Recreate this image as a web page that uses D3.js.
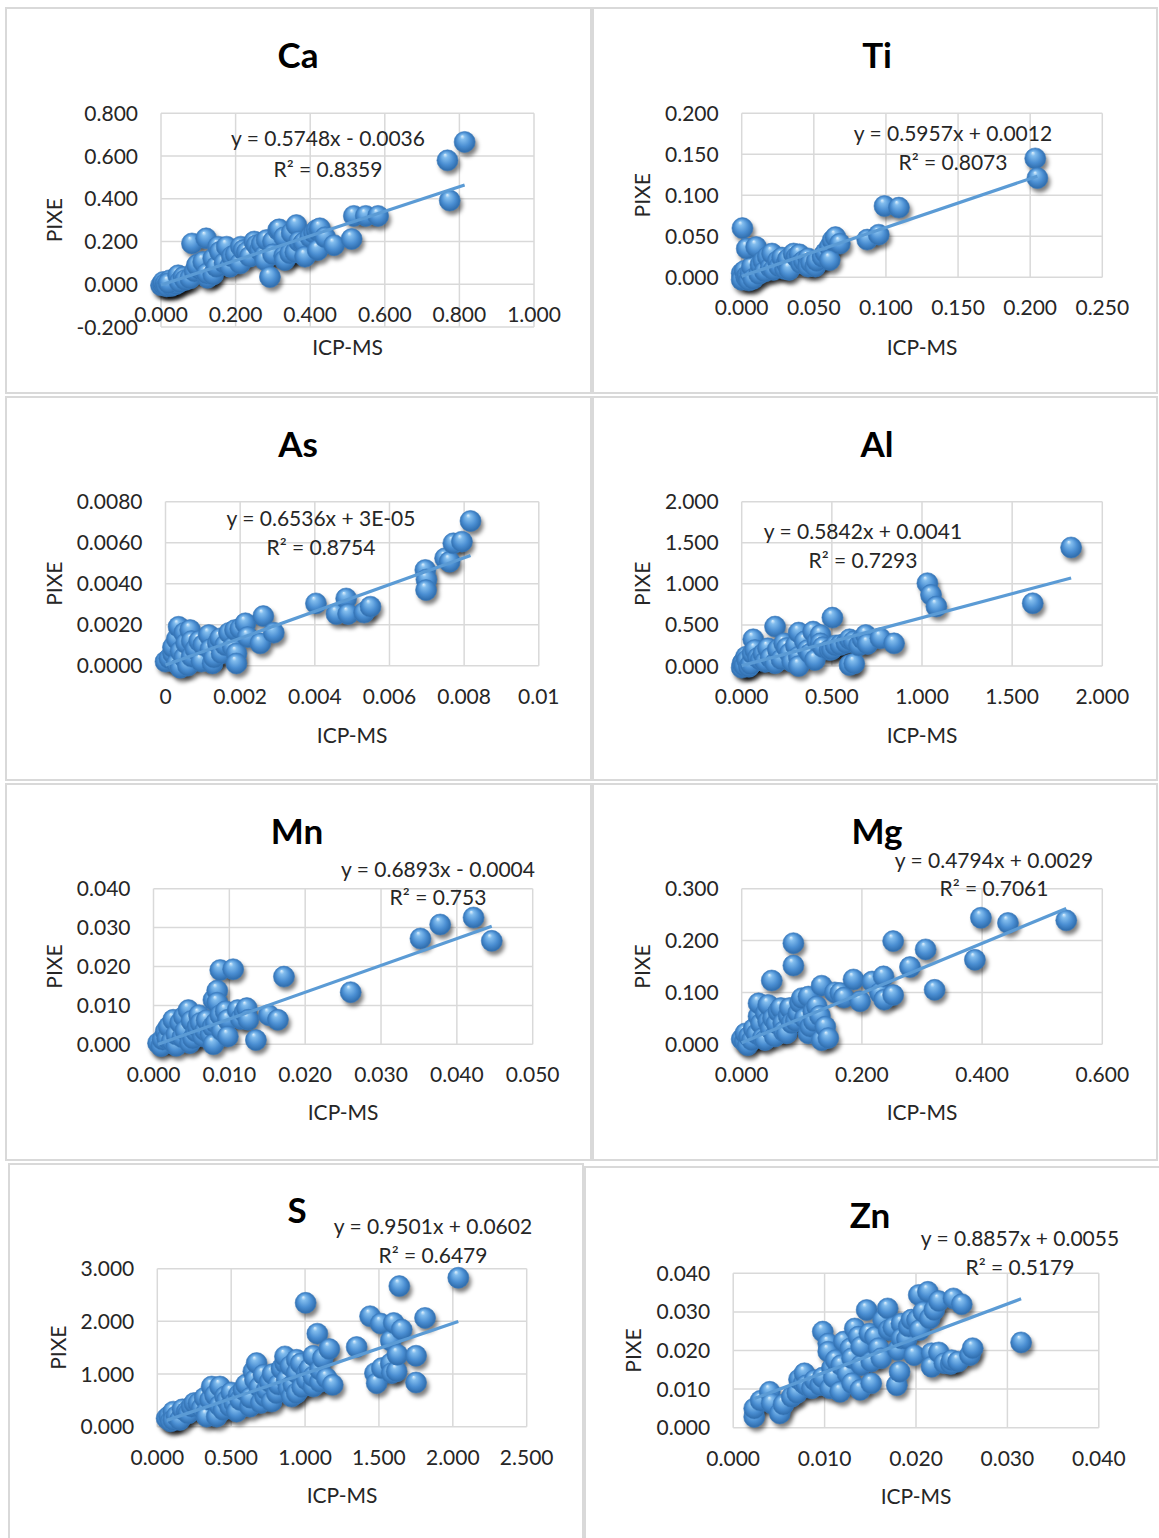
<!DOCTYPE html>
<html>
<head>
<meta charset="utf-8">
<script src="https://cdn.jsdelivr.net/npm/d3@7"></script>
<style>
  body { margin: 0; background: #fff; }
  svg { display: block; }
  text { font-family: Lato, "Open Sans", sans-serif; fill: #262626; }
</style>
</head>
<body>
<div id="chart"></div>
<script>
// ICP-MS (x) vs PIXE (y) readings, one list per element
var caPts = [[0.000,-0.005],[0.005,0.000],[0.006,0.011],[0.012,0.003],[0.015,-0.010],[0.024,0.019],[0.028,-0.008],[0.033,0.003],
  [0.040,0.000],[0.020,0.005],[0.046,0.042],[0.050,0.010],[0.060,0.034],[0.065,0.020],[0.078,0.027],[0.090,0.060],[0.100,0.095],
  [0.105,0.070],[0.083,0.191],[0.121,0.215],[0.096,0.089],[0.113,0.105],[0.125,0.030],[0.131,0.050],[0.123,0.050],[0.140,0.120],
  [0.140,0.045],[0.149,0.082],[0.153,0.176],[0.158,0.152],[0.170,0.100],[0.176,0.176],[0.185,0.082],[0.190,0.130],[0.200,0.140],
  [0.212,0.097],[0.214,0.176],[0.221,0.160],[0.230,0.150],[0.238,0.129],[0.250,0.200],[0.256,0.183],[0.265,0.160],[0.270,0.190],
  [0.278,0.134],[0.279,0.113],[0.283,0.207],[0.292,0.034],[0.300,0.200],[0.300,0.140],[0.314,0.254],[0.317,0.257],[0.330,0.220],
  [0.330,0.132],[0.332,0.113],[0.346,0.144],[0.350,0.240],[0.360,0.150],[0.363,0.277],[0.370,0.200],[0.381,0.190],[0.383,0.195],
  [0.386,0.129],[0.400,0.220],[0.410,0.240],[0.417,0.254],[0.420,0.160],[0.424,0.257],[0.426,0.262],[0.440,0.220],[0.464,0.183],
  [0.511,0.212],[0.517,0.320],[0.549,0.320],[0.582,0.320],[0.768,0.580],[0.774,0.392],[0.814,0.666]];
var tiPts = [[0.000,0.005],[0.000,-0.003],[0.002,0.008],[0.003,0.000],[0.004,0.002],[0.005,-0.004],[0.006,0.005],[0.007,0.013],
  [0.008,-0.002],[0.0005,0.060],[0.0035,0.035],[0.010,0.037],[0.012,0.004],[0.013,0.015],[0.015,0.020],[0.016,0.007],[0.018,0.025],
  [0.020,0.012],[0.021,0.029],[0.022,0.009],[0.025,0.020],[0.026,0.013],[0.028,0.024],[0.030,0.010],[0.031,0.017],[0.032,0.022],
  [0.033,0.009],[0.036,0.029],[0.038,0.025],[0.040,0.028],[0.041,0.017],[0.043,0.020],[0.046,0.023],[0.046,0.013],[0.048,0.018],
  [0.051,0.013],[0.052,0.020],[0.056,0.025],[0.058,0.030],[0.061,0.037],[0.061,0.021],[0.063,0.045],[0.065,0.049],[0.068,0.041],
  [0.087,0.046],[0.095,0.052],[0.099,0.087],[0.109,0.085],[0.2035,0.145],[0.205,0.121]];
var asPts = [[0.0000,0.00020],[0.0001,0.00036],[0.0002,0.00060],[0.0002,0.00090],[0.0003,0.00010],[0.0003,0.00130],[0.00035,0.00190],
  [0.0004,-0.0001],[0.0004,0.00070],[0.0005,0.00040],[0.0005,0.00160],[0.00055,0.00109],[0.0006,0.00000],[0.00066,0.00174],
  [0.0007,0.00044],[0.0007,0.00120],[0.0008,0.00080],[0.0009,0.00120],[0.00096,0.00020],[0.00101,0.00101],[0.00116,0.00150],
  [0.0012,0.00080],[0.00126,0.00011],[0.0013,0.00040],[0.0014,0.00110],[0.00146,0.00133],[0.0015,0.00060],[0.0016,0.00100],
  [0.0017,0.00160],[0.0018,0.00090],[0.00186,0.00174],[0.0019,0.00060],[0.0019,0.00011],[0.0020,0.00180],[0.00214,0.00207],
  [0.0022,0.00140],[0.00254,0.00109],[0.00262,0.00242],[0.0029,0.00161],[0.00403,0.00304],[0.00458,0.00252],[0.00484,0.00328],
  [0.00489,0.00252],[0.00532,0.00259],[0.00549,0.00288],[0.00696,0.00467],[0.00699,0.00421],[0.00698,0.00369],[0.00749,0.00524],
  [0.00761,0.00507],[0.00771,0.00597],[0.00794,0.00605],[0.00817,0.00706]];
var alPts = [[0.000,-0.020],[0.004,0.030],[0.010,0.050],[0.015,0.000],[0.024,0.114],[0.030,0.070],[0.040,-0.010],[0.050,0.020],
  [0.060,0.150],[0.064,0.325],[0.074,0.195],[0.090,0.100],[0.105,0.073],[0.120,0.150],[0.130,0.050],[0.145,0.215],[0.160,0.100],
  [0.185,0.480],[0.185,0.033],[0.200,0.200],[0.220,0.080],[0.235,0.276],[0.250,0.220],[0.266,0.154],[0.280,0.050],[0.300,0.250],
  [0.316,0.407],[0.316,0.114],[0.316,0.000],[0.350,0.300],[0.366,0.195],[0.380,0.150],[0.396,0.419],[0.406,0.073],[0.420,0.300],
  [0.437,0.378],[0.437,0.276],[0.450,0.230],[0.487,0.195],[0.500,0.200],[0.503,0.589],[0.520,0.250],[0.547,0.256],[0.580,0.280],
  [0.598,0.325],[0.598,0.012],[0.620,0.300],[0.624,0.030],[0.650,0.250],[0.670,0.330],[0.688,0.378],[0.698,0.268],[0.769,0.337],
  [0.845,0.276],[1.030,1.008],[1.050,0.866],[1.080,0.724],[1.614,0.764],[1.827,1.443]];
var mnPts = [[0.0006,0.0003],[0.0010,-0.0005],[0.0012,0.0012],[0.0016,0.0033],[0.0018,0.0015],[0.0020,0.0045],[0.0024,0.0008],
  [0.0026,0.0063],[0.0030,-0.0004],[0.0030,0.0025],[0.0035,0.0055],[0.0038,0.0018],[0.0040,0.0071],[0.0042,0.0035],[0.0046,0.0088],
  [0.0048,0.0003],[0.0050,0.0060],[0.0052,0.0015],[0.0056,0.0033],[0.0058,0.0045],[0.0060,0.0075],[0.0062,0.0055],[0.0065,0.0020],
  [0.0068,0.0035],[0.0070,0.0062],[0.0075,0.0025],[0.0078,0.0045],[0.0079,0.0000],[0.0079,0.0114],[0.0082,0.0055],[0.0084,0.0138],
  [0.0084,0.0107],[0.0088,0.0191],[0.0088,0.0075],[0.0090,0.0035],[0.0095,0.0085],[0.0098,0.0063],[0.0098,0.0020],[0.0105,0.0193],
  [0.0111,0.0088],[0.0115,0.0065],[0.0120,0.0082],[0.0123,0.0093],[0.0125,0.0063],[0.0135,0.0011],[0.0152,0.0075],[0.0164,0.0063],
  [0.0172,0.0174],[0.0260,0.0134],[0.0352,0.0272],[0.0378,0.0308],[0.0422,0.0326],[0.0446,0.0266]];
var mgPts = [[0.000,0.010],[0.005,0.005],[0.006,0.021],[0.010,-0.002],[0.012,0.015],[0.017,0.008],[0.020,0.030],[0.025,0.020],
  [0.028,0.054],[0.028,0.079],[0.032,0.040],[0.035,0.012],[0.039,0.008],[0.040,0.060],[0.044,0.044],[0.044,0.076],[0.048,0.030],
  [0.050,0.123],[0.052,0.050],[0.055,0.015],[0.058,0.040],[0.061,0.063],[0.065,0.070],[0.069,0.041],[0.070,0.025],[0.075,0.021],
  [0.078,0.055],[0.080,0.070],[0.083,0.041],[0.086,0.195],[0.086,0.152],[0.090,0.045],[0.094,0.060],[0.097,0.080],[0.100,0.089],
  [0.105,0.050],[0.111,0.092],[0.111,0.021],[0.114,0.034],[0.119,0.063],[0.120,0.045],[0.125,0.073],[0.130,0.055],[0.133,0.113],
  [0.133,0.008],[0.139,0.034],[0.144,0.012],[0.155,0.100],[0.164,0.099],[0.170,0.090],[0.186,0.125],[0.197,0.083],[0.217,0.121],
  [0.230,0.099],[0.236,0.131],[0.237,0.086],[0.252,0.095],[0.252,0.199],[0.280,0.149],[0.306,0.183],[0.321,0.105],[0.388,0.163],
  [0.398,0.244],[0.443,0.234],[0.540,0.239]];
var sPts = [[0.063,0.159],[0.080,0.200],[0.090,0.100],[0.108,0.286],[0.108,0.127],[0.130,0.200],[0.153,0.127],[0.170,0.330],
  [0.199,0.286],[0.210,0.250],[0.232,0.381],[0.250,0.450],[0.278,0.445],[0.300,0.350],[0.320,0.550],[0.334,0.286],[0.334,0.191],
  [0.357,0.509],[0.368,0.763],[0.390,0.600],[0.402,0.191],[0.420,0.400],[0.424,0.763],[0.447,0.318],[0.458,0.572],[0.470,0.500],
  [0.492,0.381],[0.500,0.650],[0.520,0.450],[0.537,0.286],[0.550,0.600],[0.560,0.509],[0.582,0.699],[0.600,0.800],[0.627,0.381],
  [0.630,0.550],[0.650,1.050],[0.661,0.890],[0.672,1.208],[0.690,0.750],[0.700,0.450],[0.718,0.985],[0.729,0.572],[0.740,0.699],
  [0.760,0.850],[0.774,0.477],[0.780,1.000],[0.808,0.636],[0.820,0.800],[0.840,1.100],[0.864,1.208],[0.864,1.335],[0.875,0.890],
  [0.887,0.731],[0.900,1.150],[0.909,0.572],[0.920,0.800],[0.943,1.271],[0.943,0.636],[0.943,1.017],[0.970,1.200],[0.980,0.750],
  [1.004,2.352],[1.011,1.017],[1.011,0.890],[1.030,1.100],[1.056,1.348],[1.056,0.763],[1.056,0.954],[1.083,1.767],[1.100,0.850],
  [1.101,1.081],[1.120,1.300],[1.146,0.922],[1.164,1.475],[1.187,0.795],[1.349,1.513],[1.440,2.098],[1.473,1.017],[1.485,0.826],
  [1.512,1.958],[1.519,1.113],[1.580,1.200],[1.580,1.634],[1.586,1.017],[1.600,1.970],[1.620,1.050],[1.625,1.367],[1.638,2.670],
  [1.654,1.844],[1.751,1.348],[1.751,0.839],[1.812,2.066],[2.037,2.829]];
var znPts = [[0.0023,0.0028],[0.0023,0.0050],[0.0030,0.0070],[0.0040,0.0093],[0.0042,0.0063],[0.0051,0.0037],[0.0055,0.0060],
  [0.0064,0.0080],[0.0070,0.0090],[0.0072,0.0125],[0.0077,0.0115],[0.0078,0.0141],[0.0080,0.0110],[0.0086,0.0102],[0.0089,0.0123],
  [0.0095,0.0110],[0.0098,0.0130],[0.0098,0.0249],[0.0104,0.0218],[0.0104,0.0197],[0.0106,0.0102],[0.0108,0.0154],[0.0110,0.0130],
  [0.0112,0.0175],[0.0117,0.0093],[0.0118,0.0162],[0.0121,0.0223],[0.0125,0.0140],[0.0128,0.0205],[0.0130,0.0115],[0.0130,0.0180],
  [0.0133,0.0257],[0.0137,0.0236],[0.0139,0.0098],[0.0140,0.0162],[0.0140,0.0210],[0.0146,0.0305],[0.0149,0.0244],[0.0151,0.0115],
  [0.0151,0.0171],[0.0155,0.0235],[0.0159,0.0206],[0.0162,0.0180],[0.0164,0.0279],[0.0169,0.0309],[0.0170,0.0253],[0.0175,0.0260],
  [0.0179,0.0110],[0.0180,0.0201],[0.0182,0.0145],[0.0184,0.0270],[0.0184,0.0231],[0.0190,0.0230],[0.0192,0.0262],[0.0195,0.0280],
  [0.0198,0.0188],[0.0201,0.0279],[0.0203,0.0344],[0.0204,0.0253],[0.0208,0.0300],[0.0213,0.0352],[0.0215,0.0283],[0.0217,0.0193],
  [0.0217,0.0158],[0.0220,0.0305],[0.0225,0.0195],[0.0225,0.0328],[0.0231,0.0167],[0.0238,0.0165],[0.0239,0.0175],[0.0241,0.0335],
  [0.0246,0.0171],[0.0250,0.0320],[0.0259,0.0188],[0.0262,0.0206],[0.0315,0.0221]];

// trendline coefficients and labels as printed
var elements = ["Ca", "Ti", "As", "Al", "Mn", "Mg", "S", "Zn"];
var slopes = [0.5748, 0.5957, 0.6536, 0.5842, 0.6893, 0.4794, 0.9501, 0.8857];
var intercepts = [-0.0036, 0.0012, 0.00003, 0.0041, -0.0004, 0.0029, 0.0602, 0.0055];
var eqLabels = ["y = 0.5748x - 0.0036", "y = 0.5957x + 0.0012", "y = 0.6536x + 3E-05", "y = 0.5842x + 0.0041",
  "y = 0.6893x - 0.0004", "y = 0.4794x + 0.0029", "y = 0.9501x + 0.0602", "y = 0.8857x + 0.0055"];
var r2Labels = ["R² = 0.8359", "R² = 0.8073", "R² = 0.8754", "R² = 0.7293", "R² = 0.753", "R² = 0.7061", "R² = 0.6479", "R² = 0.5179"];

// axis ticks
var xTickLists = [
  ["0.000", "0.200", "0.400", "0.600", "0.800", "1.000"],
  ["0.000", "0.050", "0.100", "0.150", "0.200", "0.250"],
  ["0", "0.002", "0.004", "0.006", "0.008", "0.01"],
  ["0.000", "0.500", "1.000", "1.500", "2.000"],
  ["0.000", "0.010", "0.020", "0.030", "0.040", "0.050"],
  ["0.000", "0.200", "0.400", "0.600"],
  ["0.000", "0.500", "1.000", "1.500", "2.000", "2.500"],
  ["0.000", "0.010", "0.020", "0.030", "0.040"]];
var yTickLists = [
  ["-0.200", "0.000", "0.200", "0.400", "0.600", "0.800"],
  ["0.000", "0.050", "0.100", "0.150", "0.200"],
  ["0.0000", "0.0020", "0.0040", "0.0060", "0.0080"],
  ["0.000", "0.500", "1.000", "1.500", "2.000"],
  ["0.000", "0.010", "0.020", "0.030", "0.040"],
  ["0.000", "0.100", "0.200", "0.300"],
  ["0.000", "1.000", "2.000", "3.000"],
  ["0.000", "0.010", "0.020", "0.030", "0.040"]];
var allPts = [caPts, tiPts, asPts, alPts, mnPts, mgPts, sPts, znPts];

// page layout for each panel (box, plot area, label anchors)
var layout = [
  {box: [6, 8, 591, 393], plot: [161, 534, 113.3, 327], title: [298, 68], eq: [328, 138], r2: [328, 169], xt: 347, yt: 54.5},
  {box: [593, 8, 1157, 393], plot: [741.7, 1102.3, 113.3, 277.3], title: [877, 68], eq: [953, 133], r2: [953, 162], xt: 347, yt: 642.6},
  {box: [6, 397, 591, 780], plot: [165.5, 538.8, 501.7, 665.7], title: [298, 457], eq: [321, 518], r2: [321, 547], xt: 735, yt: 54.5},
  {box: [593, 397, 1157, 780], plot: [741.7, 1102.3, 501.7, 666], title: [877, 457], eq: [863, 531.5], r2: [863, 560.5], xt: 735, yt: 642.6},
  {box: [6, 784, 591, 1160], plot: [153.5, 532.7, 888.7, 1044.3], title: [297, 844], eq: [438, 869], r2: [438, 897.5], xt: 1112.7, yt: 54.5},
  {box: [593, 784, 1157, 1160], plot: [741.7, 1102.3, 888.7, 1044.3], title: [877, 844], eq: [994, 860], r2: [994, 888.5], xt: 1112.7, yt: 642.6},
  {box: [9, 1164, 583, 1545], plot: [157.3, 526.7, 1268.7, 1426.7], title: [297, 1223], eq: [433, 1226], r2: [433, 1255.5], xt: 1495, yt: 58.3},
  {box: [585, 1167, 1162, 1545], plot: [733.2, 1098.8, 1273.3, 1427.7], title: [870, 1228], eq: [1020, 1238], r2: [1020, 1267], xt: 1496.7, yt: 633.5}
];

var svg = d3.select("#chart").append("svg")
  .attr("width", 1159)
  .attr("height", 1538);

var defs = svg.append("defs");
var grad = defs.append("radialGradient")
  .attr("id", "ball")
  .attr("cx", "50%").attr("cy", "50%").attr("r", "55%")
  .attr("fx", "38%").attr("fy", "22%");
grad.append("stop").attr("offset", "0%").attr("stop-color", "#e2f2fd");
grad.append("stop").attr("offset", "20%").attr("stop-color", "#82bdee");
grad.append("stop").attr("offset", "60%").attr("stop-color", "#4a8ed2");
grad.append("stop").attr("offset", "100%").attr("stop-color", "#2864a3");

defs.append("filter").attr("id", "blur")
  .attr("x", "-50%").attr("y", "-50%").attr("width", "200%").attr("height", "200%")
  .append("feGaussianBlur").attr("stdDeviation", 2);

var R = 10.5;
var gridColor = "#d9d9d9";

elements.forEach(function(name, i) {
  var L = layout[i];
  var pts = allPts[i];
  var xt = xTickLists[i].map(Number);
  var yt = yTickLists[i].map(Number);

  var x = d3.scaleLinear().domain([xt[0], xt[xt.length - 1]]).range([L.plot[0], L.plot[1]]);
  var y = d3.scaleLinear().domain([yt[0], yt[yt.length - 1]]).range([L.plot[3], L.plot[2]]);
  var g = svg.append("g");

  // panel frame
  g.append("rect")
    .attr("x", L.box[0]).attr("y", L.box[1])
    .attr("width", L.box[2] - L.box[0]).attr("height", L.box[3] - L.box[1])
    .attr("fill", "#fff").attr("stroke", gridColor).attr("stroke-width", 2);

  // gridlines
  g.selectAll(".vg").data(xt).enter().append("line")
    .attr("x1", function(d) { return x(d); }).attr("x2", function(d) { return x(d); })
    .attr("y1", L.plot[2]).attr("y2", L.plot[3])
    .attr("stroke", gridColor).attr("stroke-width", 1.5);
  g.selectAll(".hg").data(yt).enter().append("line")
    .attr("y1", function(d) { return y(d); }).attr("y2", function(d) { return y(d); })
    .attr("x1", L.plot[0]).attr("x2", L.plot[1])
    .attr("stroke", gridColor).attr("stroke-width", 1.5);

  // tick labels
  var y0 = y(Math.max(0, yt[0]));
  g.selectAll(".xl").data(xTickLists[i]).enter().append("text")
    .attr("x", function(d) { return x(+d); })
    .attr("y", y0 + 38)
    .attr("text-anchor", "middle")
    .style("font-size", "21px")
    .text(function(d) { return d; });
  g.selectAll(".yl").data(yTickLists[i]).enter().append("text")
    .attr("x", L.plot[0] - 23)
    .attr("y", function(d) { return y(+d) + 7.5; })
    .attr("text-anchor", "end")
    .style("font-size", "21px")
    .text(function(d) { return d; });

  // markers: blurred shadow then shaded ball
  g.selectAll(".sh").data(pts).enter().append("circle")
    .attr("cx", function(d) { return x(d[0]) + 2.5; })
    .attr("cy", function(d) { return y(d[1]) + 4; })
    .attr("r", R)
    .attr("fill", "rgba(0,0,0,0.5)")
    .attr("filter", "url(#blur)");
  g.selectAll(".pt").data(pts).enter().append("circle")
    .attr("cx", function(d) { return x(d[0]); })
    .attr("cy", function(d) { return y(d[1]); })
    .attr("r", R)
    .attr("fill", "url(#ball)")
    .attr("stroke", "#3a7cc0").attr("stroke-width", 0.6);

  // linear trendline across the data range
  var ext = d3.extent(pts, function(d) { return d[0]; });
  var fit = function(v) { return slopes[i] * v + intercepts[i]; };
  g.append("path")
    .datum(ext)
    .attr("d", d3.line().x(function(d) { return x(d); }).y(function(d) { return y(fit(d)); }))
    .attr("stroke", "#5b9bd5").attr("stroke-width", 3.2).attr("fill", "none");

  // titles and labels
  g.append("text")
    .attr("x", L.title[0]).attr("y", L.title[1])
    .attr("text-anchor", "middle")
    .style("font-size", "35px").style("font-weight", "bold")
    .style("fill", "#000")
    .text(name);
  g.append("text")
    .attr("x", L.eq[0]).attr("y", L.eq[1] + 7.5)
    .attr("text-anchor", "middle").style("font-size", "21px")
    .text(eqLabels[i]);
  g.append("text")
    .attr("x", L.r2[0]).attr("y", L.r2[1] + 7.5)
    .attr("text-anchor", "middle").style("font-size", "21px")
    .text(r2Labels[i]);
  g.append("text")
    .attr("x", (L.plot[0] + L.plot[1]) / 2).attr("y", L.xt + 7.5)
    .attr("text-anchor", "middle").style("font-size", "21px")
    .text("ICP-MS");
  var ym = (L.plot[2] + L.plot[3]) / 2;
  g.append("text")
    .attr("transform", "translate(" + (L.yt + 7.5) + "," + ym + ") rotate(-90)")
    .attr("text-anchor", "middle").style("font-size", "21px")
    .text("PIXE");
});
</script>
</body>
</html>
